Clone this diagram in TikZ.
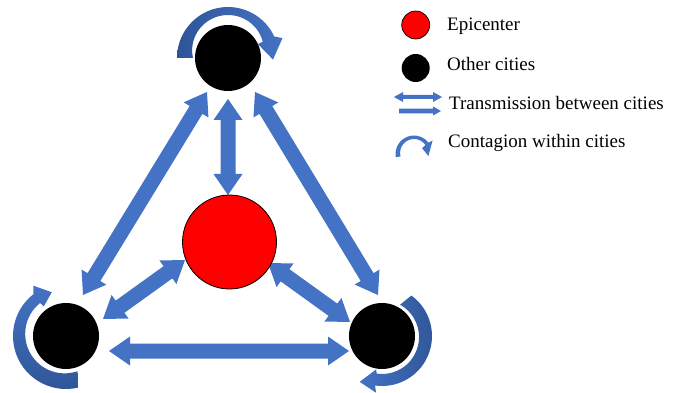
\documentclass[tikz,border=0pt]{standalone}
\usepackage{fontspec}
\setmainfont{Liberation Serif}
\usetikzlibrary{calc,backgrounds}
\definecolor{blueA}{HTML}{4472C4}
\definecolor{blueD}{HTML}{2F5597}
% #1 tip A, #2 tip B, #3 head length, #4 head half width, #5 shaft half width
\newcommand{\blockarrow}[5]{%
  \coordinate (hA) at ($(#1)!#3!(#2)$);
  \coordinate (hB) at ($(#2)!#3!(#1)$);
  \fill[blueA] (#1) -- ($(hA)!#4!90:(#2)$) -- ($(hA)!#5!90:(#2)$)
    -- ($(hB)!#5!-90:(#1)$) -- ($(hB)!#4!-90:(#1)$) -- (#2)
    -- ($(hB)!#4!90:(#1)$) -- ($(hB)!#5!90:(#1)$)
    -- ($(hA)!#5!-90:(#2)$) -- ($(hA)!#4!-90:(#2)$) -- cycle;}
\begin{document}
\begin{tikzpicture}[x=1pt,y=-1pt,
  city/.style={circle, fill=black, inner sep=0pt, minimum size=66pt},
  epi/.style={circle, fill=red, draw=black, line width=0.8pt, inner sep=0pt, minimum size=94pt},
  legcity/.style={circle, fill=black, inner sep=0pt, minimum size=28pt},
  legepi/.style={circle, fill=red, draw=black, line width=0.7pt, inner sep=0pt, minimum size=28pt},
  txt/.style={anchor=base west, inner sep=0pt, font=\fontsize{19}{23}\selectfont}]
\useasboundingbox (0,0) rectangle (678,393);

% cities
\node[city] (T) at (228,58) {};
\node[epi]  (E) at (229.5,242) {};
\node[city] (L) at (66,336) {};
\node[city] (R) at (382,336) {};

% arrow tips
\coordinate (a1) at (228,99);  \coordinate (a2) at (228,195);
\coordinate (b1) at (207,92);  \coordinate (b2) at (83,295);
\coordinate (c1) at (255,92);  \coordinate (c2) at (378,295);
\coordinate (d1) at (185,260); \coordinate (d2) at (103,319);
\coordinate (e1) at (268,263); \coordinate (e2) at (350,322);
\coordinate (f1) at (109,351); \coordinate (f2) at (349,351);

\begin{scope}[on background layer]
\blockarrow{a1}{a2}{21pt}{14.5pt}{7.5pt}
\blockarrow{b1}{b2}{21pt}{14.5pt}{7.5pt}
\blockarrow{c1}{c2}{21pt}{14.5pt}{7.5pt}
\blockarrow{d1}{d2}{21pt}{14.5pt}{7.5pt}
\blockarrow{e1}{e2}{21pt}{14.5pt}{7.5pt}
\blockarrow{f1}{f2}{21pt}{14.5pt}{7.5pt}

% contagion arrows
\begin{scope}[shift={(T)}]
\shade[left color=blueD, right color=blueA]
  (180:51) arc[start angle=180, end angle=335, radius=51]
  -- (340:58) -- (362:45) -- (335:33)
  -- plot[domain=335:180, samples=40] (\x:{35+8*cos(\x-270)}) -- cycle;
\end{scope}
\begin{scope}[shift={(L)}]
\shade[top color=blueA, bottom color=blueD]
  (77:53) arc[start angle=77, end angle=232, radius=53]
  -- (237:60) -- (252:46) -- (233:37)
  -- plot[domain=232:72, samples=40] (\x:{39.5+2.5*cos(\x-240)}) -- cycle;
\end{scope}
\begin{scope}[shift={(R)}]
\shade[left color=blueA, right color=blueD]
  (306:50) arc[start angle=306, end angle=458, radius=50]
  -- (456:57) -- (476:51) -- (460:34)
  -- plot[domain=458:300, samples=40] (\x:{37+1*cos(\x-450)}) -- cycle;
\end{scope}
\end{scope}

% legend
\node[legepi]  (lE) at (415.7,25) {};
\node[legcity] (lC) at (415.7,68) {};
\node[txt] (tE) at (447,30.7) {Epicenter};
\node[txt] (tC) at (447,71) {Other cities};
\node[txt] (tT) at (449,109.3) {Transmission between cities};
\node[txt] (tG) at (448,147.7) {Contagion within cities};

\coordinate (g1) at (394,97); \coordinate (g2) at (442,97);
\blockarrow{g1}{g2}{9pt}{5pt}{2pt}
\coordinate (s1) at (399,111); \coordinate (s2) at (441,111);
\fill[blueA] ($(s1)+(0,-2.3)$) -- ($(s2)+(-8,-2.3)$) -- ($(s2)+(-8,-4.6)$) -- (s2)
  -- ($(s2)+(-8,4.6)$) -- ($(s2)+(-8,2.3)$) -- ($(s1)+(0,2.3)$) -- cycle;
\coordinate (lG) at (414,154);
\begin{scope}[shift={(lG)}]
\fill[blueA]
  (170:18.5) arc[start angle=170, end angle=322, radius=18.5]
  -- (324:23) -- (368:14.5) -- (324:10)
  -- plot[domain=322:170, samples=30] (\x:{13.8+1.2*cos(\x-270)}) -- cycle;
\end{scope}
\end{tikzpicture}
\end{document}
